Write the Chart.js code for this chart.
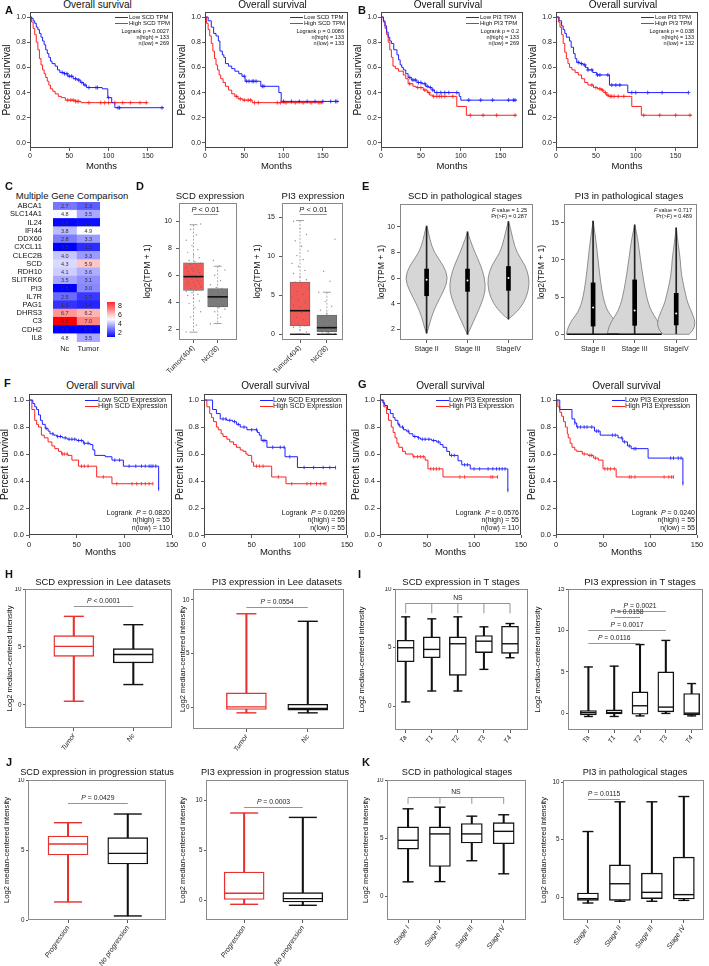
<!DOCTYPE html>
<html>
<head>
<meta charset="utf-8">
<script src="https://cdn.jsdelivr.net/npm/chart.js@4.4.1/dist/chart.umd.min.js"></script>
<style>
  body { margin: 0; background: #fff; }
  #fig { position: relative; width: 709px; height: 966px; overflow: hidden; background: #fff;
         font-family: 'Liberation Sans', Arial, sans-serif; color: #111; }
  #fig canvas { position: absolute; }
  .t { position: absolute; white-space: nowrap; line-height: 1; }
</style>
</head>
<body>
<div id="fig"></div>
<script>
// ---------------- data ----------------
// A/B: GEPIA survival curves, [months, survival]
const kmMonthTicks = [0, 50, 100, 150];
const kmSurvTicks = [0, 0.2, 0.4, 0.6, 0.8, 1.0];

const a1Low = [[0,1],[2,0.99],[4,0.97],[6,0.95],[8,0.92],[10,0.9],[12,0.87],[14,0.84],[16,0.81],[18,0.78],[20,0.74],[22,0.71],[24,0.68],[26,0.65],[28,0.63],[32,0.61],[35,0.58],[38,0.56],[44,0.55],[48,0.53],[55,0.51],[60,0.5],[64,0.48],[68,0.46],[72,0.44],[92,0.43],[99,0.36],[104,0.32],[108,0.28],[170,0.28]];
const a1LowCens = [41,44,47,50,53,58,62,66,70,75,84,86,100,112,114,168];
const a1High = [[0,1],[2,0.96],[4,0.91],[6,0.86],[8,0.8],[10,0.74],[12,0.67],[14,0.62],[16,0.58],[18,0.55],[20,0.52],[22,0.49],[24,0.46],[26,0.43],[29,0.41],[32,0.39],[36,0.37],[40,0.36],[45,0.34],[58,0.33],[65,0.32],[150,0.32]];
const a1HighCens = [48,52,55,58,60,62,75,90,95,100,108,118,128,140,148];

const a2Low = [[0,1],[4,0.97],[8,0.92],[11,0.87],[14,0.85],[17,0.81],[19,0.73],[22,0.7],[24,0.68],[26,0.63],[30,0.61],[34,0.59],[38,0.57],[43,0.55],[47,0.53],[51,0.49],[71,0.45],[94,0.4],[97,0.33],[170,0.33]];
const a2LowCens = [50,53,56,60,62,65,73,75,100,110,120,130,140,150,160,166,168];
const a2High = [[0,1],[2,0.95],[4,0.9],[6,0.85],[8,0.79],[10,0.73],[12,0.67],[14,0.62],[16,0.58],[18,0.54],[20,0.51],[23,0.48],[26,0.45],[30,0.42],[34,0.39],[38,0.37],[42,0.35],[48,0.34],[60,0.32],[150,0.32]];
const a2HighCens = [40,45,50,55,58,63,68,92,96,103,115,125,135,145,148];

const b1Low = [[0,1],[3,0.97],[5,0.93],[7,0.88],[9,0.84],[11,0.81],[13,0.79],[16,0.74],[20,0.7],[22,0.66],[24,0.62],[26,0.6],[28,0.58],[31,0.55],[34,0.52],[38,0.5],[45,0.48],[51,0.47],[56,0.45],[60,0.44],[64,0.42],[67,0.4],[98,0.37],[100,0.34],[170,0.34]];
const b1LowCens = [36,40,43,47,50,55,58,62,65,70,75,80,85,95,110,125,140,160,166,168];
const b1High = [[0,1],[3,0.96],[5,0.91],[7,0.86],[9,0.8],[11,0.74],[13,0.68],[15,0.61],[18,0.59],[22,0.57],[28,0.54],[31,0.51],[34,0.47],[40,0.45],[44,0.44],[53,0.42],[58,0.4],[61,0.38],[65,0.37],[95,0.29],[107,0.22],[170,0.22]];
const b1HighCens = [36,46,50,55,60,66,70,73,76,80,90,112,128,145,168];

const b2Low = [[0,1],[4,0.97],[7,0.93],[9,0.9],[11,0.87],[13,0.84],[17,0.81],[19,0.76],[22,0.71],[24,0.67],[26,0.64],[30,0.63],[34,0.62],[37,0.6],[40,0.58],[46,0.56],[51,0.54],[67,0.46],[90,0.4],[166,0.4]];
const b2LowCens = [28,32,36,40,45,52,55,65,70,75,80,95,100,115,133,166];
const b2High = [[0,1],[3,0.96],[5,0.92],[7,0.86],[9,0.79],[11,0.72],[13,0.67],[15,0.63],[17,0.6],[20,0.58],[24,0.56],[28,0.54],[32,0.51],[36,0.48],[40,0.46],[47,0.44],[52,0.43],[57,0.42],[60,0.4],[63,0.38],[66,0.37],[95,0.29],[107,0.22],[170,0.22]];
const b2HighCens = [45,50,55,58,62,65,68,70,73,78,85,110,130,150,168];

// F/G: survival curves, [months, survival]
const f1Low = [[0,1],[4,0.975],[6,0.95],[8,0.93],[10,0.89],[12,0.85],[14,0.82],[17,0.79],[20,0.77],[22,0.75],[26,0.74],[29,0.73],[35,0.72],[40,0.71],[50,0.7],[57,0.68],[64,0.67],[67,0.63],[69,0.59],[80,0.58],[87,0.555],[99,0.51],[136,0.34]];
const f1LowCens = [18,25,30,33,38,42,45,48,52,55,58,62,90,95,105,112,118,122,126,128,130,133,136];
const f1High = [[0,1],[3,0.93],[6,0.85],[8,0.82],[10,0.8],[13,0.74],[16,0.72],[20,0.69],[24,0.66],[27,0.64],[31,0.62],[34,0.6],[41,0.59],[45,0.555],[52,0.51],[71,0.43],[87,0.38],[130,0.38]];
const f1HighCens = [35,37,40,55,58,62,78,92,108,113,118,122,126,130];

const f2Low = [[0,1],[9,0.93],[13,0.9],[17,0.86],[24,0.85],[30,0.84],[34,0.82],[38,0.8],[45,0.78],[56,0.76],[58,0.74],[60,0.7],[66,0.65],[85,0.58],[98,0.5],[138,0.5]];
const f2LowCens = [20,23,27,32,36,42,50,55,62,64,72,80,84,90,105,115,125,132,138];
const f2High = [[0,1],[3,0.95],[6,0.9],[8,0.87],[10,0.84],[13,0.8],[15,0.78],[18,0.75],[20,0.73],[24,0.71],[27,0.69],[31,0.67],[34,0.65],[38,0.63],[41,0.62],[44,0.6],[46,0.59],[50,0.54],[52,0.51],[71,0.43],[86,0.38],[128,0.38]];
const f2HighCens = [55,58,62,78,92,108,112,118,122,126,128];

const g1Low = [[0,1],[3,0.98],[5,0.96],[8,0.93],[11,0.9],[14,0.87],[16,0.85],[19,0.82],[21,0.8],[25,0.78],[28,0.77],[31,0.75],[35,0.73],[40,0.72],[43,0.71],[55,0.7],[60,0.69],[64,0.67],[67,0.65],[71,0.62],[74,0.59],[83,0.55],[87,0.52],[96,0.49],[136,0.33]];
const g1LowCens = [20,24,30,37,41,45,48,52,57,62,76,79,90,93,100,106,115,120,124,127,130,133,136];
const g1High = [[0,1],[4,0.95],[7,0.9],[9,0.85],[12,0.8],[14,0.76],[16,0.72],[18,0.68],[20,0.65],[24,0.62],[27,0.6],[35,0.58],[48,0.555],[51,0.49],[67,0.43],[125,0.43]];
const g1HighCens = [36,40,43,46,54,57,60,63,85,90,118,120,125];

const g2Low = [[0,1],[4,0.93],[17,0.86],[20,0.83],[22,0.8],[41,0.77],[47,0.74],[66,0.72],[71,0.69],[76,0.66],[80,0.64],[98,0.57],[135,0.38]];
const g2LowCens = [20,23,26,30,33,38,43,45,60,63,70,73,78,83,85,122,125,130,133,135];
const g2High = [[0,1],[2,0.95],[4,0.91],[6,0.88],[8,0.84],[10,0.8],[12,0.75],[13,0.72],[15,0.68],[17,0.65],[20,0.63],[22,0.62],[28,0.6],[34,0.59],[40,0.57],[45,0.555],[50,0.49],[64,0.43],[125,0.43]];
const g2HighCens = [30,36,38,42,52,55,58,62,78,80,84,115,120,123,125];

// C: heatmap
const hmGenes = ['ABCA1','SLC14A1','IL24','IFI44','DDX60','CXCL11','CLEC2B','SCD','RDH10','SLITRK6','PI3','IL7R','PAG1','DHRS3','C3','CDH2','IL8'];
const hmCols = ['Nc', 'Tumor'];
const hmNc = [2.7,4.8,0.9,3.8,2.8,0.5,4.0,4.3,4.1,3.5,0.6,2.5,1.6,6.7,9.3,0.3,4.8];
const hmTumor = [2.3,3.5,1.0,4.9,3.3,1.5,3.3,5.9,3.6,3.1,3.0,1.7,1.4,6.2,7.0,0.0,3.5];
const hmBarTicks = [8, 6, 4, 2];

// D: GEPIA box plots
const dLabels = ['Tumor(404)', 'Nc(28)'];
const d1 = {lo: [1.78, 2.42], q1: [4.87, 3.66], med: [5.9, 4.4], q3: [6.92, 5.01], hi: [9.75, 6.67]};
const d2 = {lo: [0, 0], q1: [1.07, 0.33], med: [3.03, 0.85], q3: [6.7, 2.48], hi: [14.6, 5.4]};
const d1TumorPts = [1.8,2.3,2.9,3.3,3.6,3.9,4.1,4.3,4.5,4.6,4.7,4.8,4.9,5.0,5.1,5.2,5.3,5.4,5.5,5.5,5.6,5.7,5.8,5.8,5.9,6.0,6.0,6.1,6.2,6.3,6.3,6.4,6.5,6.6,6.7,6.8,6.9,7.0,7.1,7.3,7.5,7.7,7.9,8.2,8.6,9.0,9.4,9.8];
const d1NcPts = [2.4,2.9,3.3,3.5,3.6,3.7,3.8,3.9,4.0,4.1,4.2,4.3,4.3,4.4,4.4,4.5,4.6,4.7,4.8,4.9,5.0,5.1,5.3,5.6,6.0,6.4,6.7,7.1];
const d2TumorPts = [0,0,0,0,0,0,0.3,0.6,0.9,1.1,1.3,1.6,1.9,2.2,2.5,2.8,3.0,3.2,3.5,3.8,4.1,4.4,4.8,5.1,5.5,5.9,6.3,6.7,7.0,7.4,7.8,8.2,8.7,9.1,9.6,10.1,10.7,11.3,12.0,12.8,13.6,14.5];
const d2NcPts = [0,0,0,0.1,0.2,0.3,0.4,0.5,0.6,0.7,0.8,0.9,1.0,1.2,1.5,1.8,2.1,2.4,2.7,3.1,3.6,4.2,5.4,6.8,8.1,12.2];

// E: violin plots (half widths in x units)
const eLabels = ['Stage II', 'Stage III', 'StageIV'];
const e1 = {min: [1.7, 1.6, 2.8], q1: [4.62, 4.96, 5.04], med: [5.87, 5.8, 6.0], q3: [6.7, 6.7, 6.9], max: [10.05, 9.6, 10.4]};
const e1Shapes = [
  {y: [1.7,2,3,4,5,6,7,8,9,10,10.05], w: [0,0.04,0.12,0.25,0.42,0.53,0.41,0.18,0.08,0.015,0]},
  {y: [1.6,2,3,4,5,6,7,8,9,9.6], w: [0,0.06,0.2,0.34,0.44,0.42,0.32,0.18,0.06,0]},
  {y: [2.8,3.2,4,5,6,7,8,9,10,10.4], w: [0,0.16,0.37,0.49,0.51,0.41,0.2,0.11,0.04,0]},
];
const e2 = {min: [0, 0, 0], q1: [1.1, 1.2, 1.25], med: [3.6, 3.2, 2.8], q3: [6.9, 7.3, 5.5], max: [15.2, 14.7, 14.3]};
const e2Shapes = [
  {y: [0,1,2,3,4,5,7,10,13,15.2], w: [0.64,0.6,0.5,0.36,0.29,0.24,0.18,0.12,0.06,0]},
  {y: [0,1,2,3,4,5,7,10,13,14.7], w: [0.66,0.62,0.53,0.41,0.34,0.29,0.22,0.14,0.07,0]},
  {y: [0,0.5,1.5,2.5,4,5,8,10,12,14.3], w: [0.31,0.41,0.46,0.41,0.29,0.24,0.12,0.1,0.05,0]},
];

// H-K: Prism box plots
const hLabels = ['Tumor', 'Nc'];
const h1 = {lo: [0.31, 1.75], q1: [4.19, 3.62], med: [5.05, 4.34], q3: [5.97, 4.85], hi: [7.64, 6.92]};
const h2 = {lo: [-0.5, -0.5], q1: [-0.19, -0.25], med: [0.05, -0.1], q3: [1.35, 0.3], hi: [8.7, 8.0]};
const iLabels = ['Ta', 'T1', 'T2', 'T3', 'T4'];
const i1 = {lo: [0.39,1.32,1.32,3.16,4.15], q1: [3.81,4.15,2.65,4.58,4.52], med: [5.0,4.86,5.34,5.56,5.34], q3: [5.64,5.93,5.93,6.04,6.83], hi: [7.63,7.46,7.63,6.78,7.06]};
const i2 = {lo: [-0.37,-0.37,-0.3,0,-0.3], q1: [-0.17,-0.05,-0.1,0.19,-0.17], med: [0.1,0.1,0.92,0.76,0.03], q3: [0.35,0.43,2.6,5.0,2.4], hi: [5.6,5.7,8.3,8.8,3.6]};
const jLabels = ['Progression', 'No progression'];
const j1 = {lo: [1.29, 0.29], q1: [4.64, 4.0], med: [5.43, 4.76], q3: [6.0, 5.88], hi: [6.95, 7.57]};
const j2 = {lo: [-0.43, -0.53], q1: [0, -0.2], med: [0.67, 0.14], q3: [2.8, 0.74], hi: [8.7, 8.26]};
const kLabels = ['Stage I', 'Stage II', 'Stage III', 'Stage IV'];
const k1 = {lo: [1.27,1.29,3.08,1.96], q1: [4.08,2.59,4.6,4.54], med: [4.83,5.38,5.38,5.6], q3: [5.98,5.98,6.27,6.35], hi: [7.53,7.67,6.9,7.02]};
const k2 = {lo: [-0.52,-0.37,-0.37,-0.29], q1: [-0.29,-0.29,-0.14,-0.17], med: [-0.14,1.16,0.41,0.21], q3: [0.35,2.8,2.09,3.48], hi: [5.71,8.3,8.3,8.76]};

// ---------------- helpers ----------------
const FONT = "'Liberation Sans', Arial, sans-serif";
Chart.defaults.font.family = FONT;
Chart.defaults.color = '#222';
const fig = document.getElementById('fig');
const BLUE = '#1f1fff', RED = '#ff2020', PRED = '#e8302f';

function txt(x, y, html, o = {}) {
  const d = document.createElement('div');
  d.className = 't';
  d.innerHTML = html;
  d.style.left = x + 'px';
  d.style.top = y + 'px';
  d.style.fontSize = (o.size || 9) + 'px';
  if (o.bold) d.style.fontWeight = 'bold';
  if (o.color) d.style.color = o.color;
  const ax = o.align === 'right' ? '-100%' : o.align === 'left' ? '0' : '-50%';
  d.style.transform = `translate(${ax},-50%)`;
  fig.appendChild(d);
}
function hl(x1, x2, y, color) {
  const d = document.createElement('div');
  d.style.cssText = `position:absolute;left:${x1}px;top:${y - 0.5}px;width:${x2 - x1}px;height:1px;background:${color}`;
  fig.appendChild(d);
}

function stepAt(pts, t) {
  let v = pts[0][1];
  for (const p of pts) if (p[0] <= t) v = p[1];
  return v;
}

function panel(frame, m, config) {
  const [x0, y0, x1, y1] = frame;
  const c = document.createElement('canvas');
  const W = Math.round(x1 - x0 + m.L + m.R), H = Math.round(y1 - y0 + m.T + m.B);
  c.width = W; c.height = H;
  c.style.width = W + 'px'; c.style.height = H + 'px';
  c.style.left = (x0 - m.L) + 'px'; c.style.top = (y0 - m.T) + 'px';
  fig.appendChild(c);
  const o = config.options;
  Object.assign(o, {responsive: false, animation: false, devicePixelRatio: 1,
    layout: {autoPadding: false, padding: {left: 0, top: m.T, right: m.R, bottom: 0}}});
  o.plugins = Object.assign({legend: {display: false}, tooltip: {enabled: false}}, o.plugins);
  return new Chart(c, config);
}

function linAxis(o) {
  const left = o.pos === 'left';
  return {
    type: 'linear', position: o.pos, min: o.min, max: o.max, offset: false, stacked: !!o.stacked,
    afterBuildTicks: s => { s.ticks = o.ticks.map(v => ({value: v})); },
    afterFit: s => {
      if (left) s.width = o.size; else s.height = o.size;
      s.paddingLeft = 0; s.paddingRight = 0; s.paddingTop = 0; s.paddingBottom = 0;
    },
    grid: {display: true, offset: false, drawOnChartArea: false, drawTicks: (o.tl || 0) > 0, tickLength: o.tl || 0, tickColor: '#333', tickWidth: 0.8},
    border: {display: false},
    ticks: {font: {size: o.fs, style: o.italic ? 'italic' : 'normal'}, color: '#222', padding: o.pad ?? 1,
            autoSkip: false, maxRotation: o.rot || 0, minRotation: o.rot || 0, callback: o.fmt || (v => v)},
    title: o.title ? {display: true, text: o.title, color: '#111', font: {size: o.tfs},
                      padding: {top: o.tpad ?? 1, bottom: o.tpad ?? 1}} : {display: false},
  };
}

const framePlugin = {
  id: 'frame',
  afterDatasetsDraw(chart, args, opts) {
    const {ctx, chartArea: a} = chart;
    ctx.save();
    ctx.strokeStyle = opts.color || '#444';
    ctx.lineWidth = opts.width || 1;
    ctx.strokeRect(a.left + 0.5, a.top + 0.5, a.right - a.left - 1, a.bottom - a.top - 1);
    ctx.restore();
  },
};

function drawPText(ctx, s, cx, cy, size) {
  const head = s[0] === 'P' ? 'P' : '';
  const tail = s.slice(head.length);
  ctx.font = `italic ${size}px ${FONT}`;
  const w1 = ctx.measureText(head).width;
  ctx.font = `${size}px ${FONT}`;
  const w2 = ctx.measureText(tail).width;
  const x = cx - (w1 + w2) / 2;
  ctx.textBaseline = 'middle';
  ctx.textAlign = 'left';
  ctx.fillStyle = '#222';
  ctx.font = `italic ${size}px ${FONT}`;
  ctx.fillText(head, x, cy);
  ctx.font = `${size}px ${FONT}`;
  ctx.fillText(tail, x + w1, cy);
}

const bracketPlugin = {
  id: 'brackets',
  afterDatasetsDraw(chart, args, opts) {
    const {ctx, scales: {x, y}} = chart;
    ctx.save();
    (opts.items || []).forEach(b => {
      const xs = b.at.map(v => x.getPixelForValue(v));
      const py = Math.round(y.getPixelForValue(b.y)) + 0.5;
      ctx.strokeStyle = opts.color || '#777';
      ctx.lineWidth = 0.8;
      ctx.beginPath();
      ctx.moveTo(Math.min(...xs), py);
      ctx.lineTo(Math.max(...xs), py);
      if (b.drop) xs.forEach(px => { ctx.moveTo(px, py); ctx.lineTo(px, y.getPixelForValue(b.y - b.drop)); });
      ctx.stroke();
      const cx = (Math.min(...xs) + Math.max(...xs)) / 2;
      drawPText(ctx, b.text, cx, py - (opts.gap || 5), opts.size || 7);
    });
    ctx.restore();
  },
};

function smoothSide(ctx, pts, first) {
  pts.forEach((p, i) => {
    if (i === 0) { first ? ctx.moveTo(p[0], p[1]) : ctx.lineTo(p[0], p[1]); return; }
    if (i === pts.length - 1) { ctx.lineTo(p[0], p[1]); return; }
    const n = pts[i + 1];
    ctx.quadraticCurveTo(p[0], p[1], (p[0] + n[0]) / 2, (p[1] + n[1]) / 2);
  });
}
const violinPlugin = {
  id: 'violin',
  beforeDatasetsDraw(chart, args, opts) {
    const {ctx, scales: {x, y}, chartArea: a} = chart;
    ctx.save();
    ctx.beginPath();
    ctx.rect(a.left, a.top, a.right - a.left, a.bottom - a.top);
    ctx.clip();
    opts.shapes.forEach((s, i) => {
      const c = i + 1;
      const right = s.y.map((v, k) => [x.getPixelForValue(c + s.w[k]), y.getPixelForValue(v)]);
      const leftSide = s.y.map((v, k) => [x.getPixelForValue(c - s.w[k]), y.getPixelForValue(v)]).reverse();
      ctx.beginPath();
      smoothSide(ctx, right, true);
      smoothSide(ctx, leftSide, false);
      ctx.closePath();
      ctx.fillStyle = '#d6d6d6';
      ctx.fill();
      ctx.strokeStyle = '#777';
      ctx.lineWidth = 0.8;
      ctx.stroke();
    });
    ctx.restore();
  },
};

const cellTextPlugin = {
  id: 'cellText',
  afterDatasetsDraw(chart) {
    const {ctx} = chart;
    ctx.save();
    ctx.font = `5.5px ${FONT}`;
    ctx.textAlign = 'center';
    ctx.textBaseline = 'middle';
    ctx.fillStyle = '#333';
    chart.data.datasets.forEach((ds, i) => {
      chart.getDatasetMeta(i).data.forEach((el, j) => {
        const {x, y, base} = el.getProps(['x', 'y', 'base']);
        ctx.fillText(ds.vals[j].toFixed(1), (x + base) / 2, y + 0.5);
      });
    });
    ctx.restore();
  },
};

// ---------------- Kaplan-Meier panels ----------------
function kmPanel(frame, curves, o) {
  const datasets = [];
  curves.forEach(c => {
    datasets.push({data: c.pts.map(p => ({x: p[0], y: p[1]})), borderColor: c.col, borderWidth: 1,
                   stepped: true, pointRadius: 0, fill: false, order: 2});
    datasets.push({data: c.cens.map(t => ({x: t, y: stepAt(c.pts, t)})), showLine: false,
                   pointStyle: o.mark, pointRotation: o.markRot || 0, pointRadius: o.markR,
                   pointBorderColor: c.col, pointBackgroundColor: c.col, pointBorderWidth: 0.8, order: 1});
  });
  return panel(frame, {L: 30, R: 8, T: 2, B: o.B}, {
    type: 'line',
    data: {datasets},
    options: {
      plugins: {frame: {color: '#444'}},
      scales: {
        x: linAxis({pos: 'bottom', min: 0, max: o.xmax, ticks: kmMonthTicks, size: o.B, tl: 3, pad: o.xpad, fs: o.fs,
                    title: 'Months', tfs: 9.5, tpad: 1}),
        y: linAxis({pos: 'left', min: o.ymin, max: o.ymax, ticks: kmSurvTicks, size: 30, tl: 3, pad: o.ypad, fs: o.fs,
                    fmt: v => v.toFixed(1), title: 'Percent survival', tfs: 10, tpad: o.ytpad}),
      },
    },
    plugins: [framePlugin],
  });
}

const gepiaKm = {B: 25, xpad: 1, ypad: 1, ytpad: 1, fs: 7, ymin: -0.04, ymax: 1.04, mark: 'cross', markR: 2};
kmPanel([30, 12, 173, 148], [{pts: a1Low, cens: a1LowCens, col: BLUE}, {pts: a1High, cens: a1HighCens, col: RED}], {...gepiaKm, xmax: 182});
kmPanel([205, 12, 348, 148], [{pts: a2Low, cens: a2LowCens, col: BLUE}, {pts: a2High, cens: a2HighCens, col: RED}], {...gepiaKm, xmax: 182});
kmPanel([381, 12, 523, 148], [{pts: b1Low, cens: b1LowCens, col: BLUE}, {pts: b1High, cens: b1HighCens, col: RED}], {...gepiaKm, xmax: 178});
kmPanel([556, 12, 698, 148], [{pts: b2Low, cens: b2LowCens, col: BLUE}, {pts: b2High, cens: b2HighCens, col: RED}], {...gepiaKm, xmax: 178});

const fgKm = {B: 24, xpad: 2, ypad: 2, ytpad: 0, fs: 7.5, ymin: 0, ymax: 1.045, xmax: 150, mark: 'line', markRot: 90, markR: 1.8};
kmPanel([29, 394, 172, 535], [{pts: f1Low, cens: f1LowCens, col: BLUE}, {pts: f1High, cens: f1HighCens, col: RED}], fgKm);
kmPanel([204, 394, 347, 535], [{pts: f2Low, cens: f2LowCens, col: BLUE}, {pts: f2High, cens: f2HighCens, col: RED}], fgKm);
kmPanel([380, 394, 521, 535], [{pts: g1Low, cens: g1LowCens, col: BLUE}, {pts: g1High, cens: g1HighCens, col: RED}], fgKm);
kmPanel([556, 394, 697, 535], [{pts: g2Low, cens: g2LowCens, col: BLUE}, {pts: g2High, cens: g2HighCens, col: RED}], fgKm);

// KM legends and annotations
function gepiaNotes(x0, x1, y0, gene, p, nh, nl) {
  txt((x0 + x1) / 2 - 4, 5, 'Overall survival', {size: 10});
  hl(x0 + 85, x0 + 98, y0 + 5, BLUE); txt(x0 + 99, y0 + 5, `Low ${gene} TPM`, {size: 6, align: 'left'});
  hl(x0 + 85, x0 + 98, y0 + 11, RED); txt(x0 + 99, y0 + 11, `High ${gene} TPM`, {size: 6, align: 'left'});
  txt(x1 - 4, y0 + 20, `Logrank p = ${p}`, {size: 5.5, align: 'right'});
  txt(x1 - 4, y0 + 26, `n(high) = ${nh}`, {size: 5.5, align: 'right'});
  txt(x1 - 4, y0 + 32, `n(low) = ${nl}`, {size: 5.5, align: 'right'});
}
gepiaNotes(30, 173, 12, 'SCD', '0.0027', 133, 269);
gepiaNotes(205, 348, 12, 'SCD', '0.0086', 133, 133);
gepiaNotes(381, 523, 12, 'PI3', '0.2', 133, 269);
gepiaNotes(556, 698, 12, 'PI3', '0.038', 133, 132);

function fgNotes(x0, x1, y0, gene, p, nh, nl) {
  txt((x0 + x1) / 2, y0 - 8, 'Overall survival', {size: 10});
  hl(x0 + 56, x0 + 69, y0 + 6, BLUE); txt(x0 + 69, y0 + 6, `Low ${gene} Expression`, {size: 7.2, align: 'left'});
  hl(x0 + 56, x0 + 69, y0 + 12, RED); txt(x0 + 69, y0 + 12, `High ${gene} Expression`, {size: 7.2, align: 'left'});
  txt(x1 - 2, y0 + 118, `Logrank&nbsp; <i>P</i> = ${p}`, {size: 7, align: 'right'});
  txt(x1 - 2, y0 + 125, `n(high) = ${nh}`, {size: 7, align: 'right'});
  txt(x1 - 2, y0 + 133, `n(low) = ${nl}`, {size: 7, align: 'right'});
}
fgNotes(29, 172, 394, 'SCD', '0.0820', 55, 110);
fgNotes(204, 347, 394, 'SCD', '0.0269', 55, 55);
fgNotes(380, 521, 394, 'PI3', '0.0576', 55, 110);
fgNotes(556, 697, 394, 'PI3', '0.0240', 55, 55);

// ---------------- C heatmap ----------------
function heat(v) {
  const lo = 0.8, mid = 4.9, hi = 9.3;
  if (v <= mid) {
    const t = Math.min(1, (mid - v) / (mid - lo));
    const c = Math.round(255 * (1 - t));
    return `rgb(${c},${c},255)`;
  }
  const t = Math.min(1, (v - mid) / (hi - mid));
  const c = Math.round(255 * (1 - t));
  return `rgb(255,${c},${c})`;
}
panel([53, 202, 100, 342], {L: 53, R: 0, T: 0, B: 12}, {
  type: 'bar',
  data: {
    labels: hmGenes,
    datasets: [
      {data: hmNc.map(() => 1), vals: hmNc, backgroundColor: hmNc.map(heat), barPercentage: 1, categoryPercentage: 1, borderWidth: 0},
      {data: hmTumor.map(() => 1), vals: hmTumor, backgroundColor: hmTumor.map(heat), barPercentage: 1, categoryPercentage: 1, borderWidth: 0},
    ],
  },
  options: {
    indexAxis: 'y',
    scales: {
      x: linAxis({pos: 'bottom', min: 0, max: 2, ticks: [0.5, 1.5], size: 12, tl: 0, pad: 2, fs: 7.5, stacked: true,
                  fmt: v => hmCols[Math.floor(v)]}),
      y: {type: 'category', stacked: true, grid: {display: false}, border: {display: false},
          ticks: {font: {size: 7.5}, color: '#111', padding: 3, autoSkip: false},
          afterFit: s => { s.width = 53; s.paddingTop = 0; s.paddingBottom = 0; }},
    },
  },
  plugins: [cellTextPlugin],
});
txt(72, 196, 'Multiple Gene Comparison', {size: 9.5});
(function colorBar() {
  const top = 8.67, bot = 0.89, stops = [];
  for (let k = 0; k <= 10; k++) stops.push(`${heat(top - (top - bot) * k / 10)} ${k * 10}%`);
  const d = document.createElement('div');
  d.style.cssText = `position:absolute;left:107px;top:302px;width:8px;height:35px;background:linear-gradient(to bottom,${stops.join(',')})`;
  fig.appendChild(d);
  hmBarTicks.forEach(v => txt(118, 302 + (top - v) / (top - bot) * 35, String(v), {size: 7, align: 'left'}));
})();

// ---------------- D GEPIA box plots ----------------
function gepiaBox(frame, L, st, pts, o) {
  const xs = [1, 2];
  const whisk = [];
  xs.forEach((x, i) => { whisk.push({x, y: st.hi[i]}, {x, y: st.q3[i]}, {x, y: null}, {x, y: st.q1[i]}, {x, y: st.lo[i]}, {x, y: null}); });
  const jit = [];
  pts.forEach((arr, g) => arr.forEach((v, i) => jit.push({x: g + 1 + ((((i * 7) % 11) / 10) - 0.5) * 0.6, y: v})));
  const datasets = [
    {type: 'line', data: whisk, borderColor: '#999', borderWidth: 0.8, borderDash: [2, 1.5], pointRadius: 0, spanGaps: false, order: 5},
    {type: 'line', showLine: false, data: xs.flatMap((x, i) => [{x, y: st.hi[i]}, {x, y: st.lo[i]}]), pointStyle: 'line', pointRadius: 4,
     pointBorderColor: '#888', pointBorderWidth: 0.8, order: 4},
    {type: 'bar', data: xs.map((x, i) => ({x, y: [st.q1[i], st.q3[i]]})), backgroundColor: ['#f25a58', '#7b7b7b'],
     borderColor: '#666', borderWidth: 0.8, borderSkipped: false, barThickness: 20, grouped: false, order: 3},
    {type: 'line', showLine: false, data: jit, pointRadius: 0.7, pointBackgroundColor: 'rgba(110,110,110,0.75)', pointBorderWidth: 0, order: 2},
    {type: 'line', showLine: false, data: xs.map((x, i) => ({x, y: st.med[i]})), pointStyle: 'line', pointRadius: 10,
     pointBorderColor: '#111', pointBorderWidth: 1.6, order: 1},
  ];
  // dense cluster of zero values drawn as a dark bar at the lower whisker
  if (o.loDark) datasets.push({type: 'line', showLine: false, data: xs.map((x, i) => ({x, y: st.lo[i]})), pointStyle: 'line',
                               pointRadius: 10, pointBorderColor: '#222', pointBorderWidth: 1.4, order: 0});
  return panel(frame, {L, R: 3, T: 2, B: 40}, {
    type: 'bar',
    data: {datasets},
    options: {
      plugins: {frame: {color: '#888'}, brackets: {items: [{at: [1, 2], y: o.py, text: 'P < 0.01'}], color: '#777', gap: 5, size: 7.5}},
      scales: {
        x: linAxis({pos: 'bottom', min: o.xmin, max: o.xmax, ticks: xs, size: 40, tl: 3, pad: 1, fs: 7, rot: 45, fmt: v => dLabels[v - 1]}),
        y: linAxis({pos: 'left', min: o.ymin, max: o.ymax, ticks: o.yticks, size: L, tl: 3, pad: 4, fs: 7, title: 'log2(TPM + 1)', tfs: 8.5, tpad: 1}),
      },
    },
    plugins: [framePlugin, bracketPlugin],
  });
}
gepiaBox([179, 203, 237, 340], 37, d1, [d1TumorPts, d1NcPts], {xmin: 0.4, xmax: 2.8, ymin: 1.2, ymax: 11.36, yticks: [2, 4, 6, 8, 10], py: 10.57});
gepiaBox([282, 203, 343, 340], 30, d2, [d2TumorPts, d2NcPts], {xmin: 0.33, xmax: 2.6, ymin: -0.73, ymax: 16.85, yticks: [0, 5, 10, 15], py: 15.48, loDark: true});
txt(210, 196, 'SCD expression', {size: 9.5});
txt(313, 196, 'PI3 expression', {size: 9.5});

// ---------------- E violin plots ----------------
function violinPanel(frame, L, st, shapes, o) {
  const xs = [1, 2, 3];
  const datasets = [
    {type: 'bar', data: xs.map((x, i) => ({x, y: [st.min[i], st.max[i]]})), backgroundColor: '#222', barThickness: 1, grouped: false, order: 3},
    {type: 'bar', data: xs.map((x, i) => ({x, y: [st.q1[i], st.q3[i]]})), backgroundColor: '#000', barThickness: 4, grouped: false, order: 2},
    {type: 'line', showLine: false, data: xs.map((x, i) => ({x, y: st.med[i]})), pointRadius: 1, pointBackgroundColor: '#fff', pointBorderWidth: 0, order: 1},
  ];
  if (o.zero) datasets.push({type: 'line', showLine: false, data: o.zero.map(i => ({x: xs[i], y: 0})), pointStyle: 'line',
                              pointRadius: o.zeroR, pointBorderColor: '#111', pointBorderWidth: 1.5, order: 0});
  return panel(frame, {L, R: 4, T: 2, B: 15}, {
    type: 'bar',
    data: {datasets},
    options: {
      plugins: {frame: {color: '#888'}, violin: {shapes}},
      scales: {
        x: linAxis({pos: 'bottom', min: o.xmin, max: o.xmax, ticks: xs, size: 15, tl: 3, pad: 2, fs: 7, fmt: v => eLabels[v - 1]}),
        y: linAxis({pos: 'left', min: o.ymin, max: o.ymax, ticks: o.yticks, size: L, tl: 3, pad: 2, fs: 7, title: 'log2(TPM + 1)', tfs: 8.5, tpad: 1}),
      },
    },
    plugins: [violinPlugin, framePlugin],
  });
}
violinPanel([400, 204, 533, 340], 24, e1, e1Shapes, {xmin: 0.35, xmax: 3.6, ymin: 1.17, ymax: 11.77, yticks: [2, 4, 6, 8, 10]});
violinPanel([564, 204, 697, 340], 28, e2, e2Shapes, {xmin: 0.3, xmax: 3.5, ymin: -0.77, ymax: 17.5, yticks: [0, 5, 10, 15], zero: [0, 1], zeroR: [26, 27]});
txt(465, 196, 'SCD in pathological stages', {size: 9.5});
txt(629, 196, 'PI3 in pathological stages', {size: 9.5});
txt(527, 210.5, '<i>F</i> value = 1.25', {size: 5.5, align: 'right'});
txt(527, 216.5, 'Pr(&gt;<i>F</i>) = 0.287', {size: 5.5, align: 'right'});
txt(692, 210.5, '<i>F</i> value = 0.717', {size: 5.5, align: 'right'});
txt(692, 216.5, 'Pr(&gt;<i>F</i>) = 0.489', {size: 5.5, align: 'right'});

// ---------------- H-K Prism box plots ----------------
function prismBox(frame, m, labels, st, o) {
  const xs = labels.map((_, i) => i + 1);
  const cols = o.colors || xs.map(() => '#111');
  const lw = 1.4;
  return panel(frame, m, {
    type: 'bar',
    data: {datasets: [
      {type: 'bar', data: xs.map((x, i) => ({x, y: [st.lo[i], st.hi[i]]})), backgroundColor: cols, borderWidth: 0, barThickness: lw, grouped: false, order: 4},
      {type: 'bar', data: xs.map((x, i) => ({x, y: [st.q1[i], st.q3[i]]})), backgroundColor: '#fff', borderColor: cols,
       borderWidth: lw, borderSkipped: false, barThickness: o.bw, grouped: false, order: 3},
      {type: 'line', showLine: false, data: xs.flatMap((x, i) => [{x, y: st.lo[i]}, {x, y: st.hi[i]}]), pointStyle: 'line',
       pointRadius: o.cap, pointBorderWidth: lw, pointBorderColor: xs.flatMap((_, i) => [cols[i], cols[i]]), order: 2},
      {type: 'line', showLine: false, data: xs.map((x, i) => ({x, y: st.med[i]})), pointStyle: 'line',
       pointRadius: o.bw / 2 - 0.5, pointBorderWidth: lw, pointBorderColor: cols, order: 1},
    ]},
    options: {
      plugins: {frame: {color: '#8a8a8a'}, brackets: {items: o.brackets || [], color: '#777', gap: o.gap || 5, size: 6.8}},
      scales: {
        x: linAxis({pos: 'bottom', min: o.xmin, max: o.xmax, ticks: xs, size: m.B, tl: 3, pad: 1, fs: o.xfs || 6.8, rot: o.rot, italic: true,
                    fmt: v => labels[v - 1]}),
        y: linAxis({pos: 'left', min: o.ymin, max: o.ymax, ticks: o.yticks, size: m.L, tl: 2, pad: 1.5, fs: 6.3,
                    title: 'Log2 median-centered intensity', tfs: 7.6, tpad: 1}),
      },
    },
    plugins: [framePlugin, bracketPlugin],
  });
}
prismBox([25, 589, 172, 728], {L: 21, R: 4, T: 2, B: 26}, hLabels, h1,
  {colors: [PRED, '#111'], bw: 40, cap: 10, rot: 55, xmin: 0.18, xmax: 2.65, ymin: -2, ymax: 10, yticks: [0, 5, 10],
   brackets: [{at: [1, 2], y: 8.5, text: 'P < 0.0001'}]});
prismBox([193, 589, 344, 729], {L: 16, R: 4, T: 2, B: 25}, hLabels, h2,
  {colors: [PRED, '#111'], bw: 40, cap: 10, rot: 55, xmin: 0.13, xmax: 2.59, ymin: -2, ymax: 11, yticks: [0, 5, 10],
   brackets: [{at: [1, 2], y: 9.33, text: 'P = 0.0554'}]});
prismBox([395, 589, 528, 730], {L: 39, R: 4, T: 2, B: 25}, iLabels, i1,
  {bw: 17, cap: 4.5, rot: 55, xmin: 0.59, xmax: 5.69, ymin: -2, ymax: 10, yticks: [0, 5, 10],
   brackets: [{at: [1, 2, 3, 4, 5], y: 8.83, drop: 0.9, text: 'NS'}]});
prismBox([568, 589, 703, 730], {L: 36, R: 4, T: 2, B: 25}, iLabels, i2,
  {bw: 16, cap: 4.5, rot: 55, xmin: 0.21, xmax: 5.44, ymin: -2, ymax: 15, yticks: [0, 5, 10, 15], gap: 5,
   brackets: [{at: [2, 4], y: 12.4, text: 'P = 0.0021'}, {at: [2, 3], y: 11.6, text: 'P = 0.0158'},
              {at: [1, 4], y: 10.1, text: 'P = 0.0017'}, {at: [1, 3], y: 8.5, text: 'P = 0.0116'}]});
prismBox([28, 780, 166, 920], {L: 27, R: 4, T: 2, B: 46}, jLabels, j1,
  {colors: [PRED, '#111'], bw: 40, cap: 14, rot: 55, xfs: 7, xmin: 0.33, xmax: 2.64, ymin: 0, ymax: 10, yticks: [0, 5, 10],
   brackets: [{at: [1, 2], y: 8.34, text: 'P = 0.0429'}]});
prismBox([206, 780, 348, 920], {L: 29, R: 4, T: 2, B: 46}, jLabels, j2,
  {colors: [PRED, '#111'], bw: 40, cap: 14, rot: 55, xfs: 7, xmin: 0.35, xmax: 2.77, ymin: -2, ymax: 12, yticks: [0, 5, 10],
   brackets: [{at: [1, 2], y: 9.27, text: 'P = 0.0003'}]});
prismBox([387, 780, 526, 920], {L: 27, R: 4, T: 2, B: 46}, kLabels, k1,
  {bw: 21, cap: 5.5, rot: 55, xfs: 7, xmin: 0.34, xmax: 4.7, ymin: -2, ymax: 10, yticks: [0, 5, 10],
   brackets: [{at: [1, 2, 3, 4], y: 8.53, drop: 0.57, text: 'NS'}]});
prismBox([563, 780, 704, 920], {L: 25, R: 4, T: 2, B: 46}, kLabels, k2,
  {bw: 21, cap: 5.5, rot: 55, xfs: 7, xmin: 0.22, xmax: 4.63, ymin: -2, ymax: 10.2, yticks: [0, 5, 10],
   brackets: [{at: [1, 2], y: 8.57, text: 'P = 0.0115'}]});

txt(103, 582, 'SCD expression in Lee datasets', {size: 9.5});
txt(277, 582, 'PI3 expression in Lee datasets', {size: 9.5});
txt(461, 582, 'SCD expression in T stages', {size: 9.5});
txt(640, 582, 'PI3 expression in T stages', {size: 9.5});
txt(97, 773, 'SCD expression in progression status', {size: 9.2});
txt(275, 773, 'PI3 expression in progression status', {size: 9.2});
txt(457, 773, 'SCD in pathological stages', {size: 9.2});
txt(635, 773, 'PI3 in pathological stages', {size: 9.2});

// panel letters
[['A', 5, 10], ['B', 358, 10], ['C', 5, 186], ['D', 136, 186], ['E', 362, 186], ['F', 4, 383], ['G', 358, 384],
 ['H', 5, 574], ['I', 358, 574], ['J', 6, 762], ['K', 362, 762]].forEach(([s, x, y]) => txt(x, y, s, {size: 11, bold: true, align: 'left'}));
</script>
</body>
</html>
